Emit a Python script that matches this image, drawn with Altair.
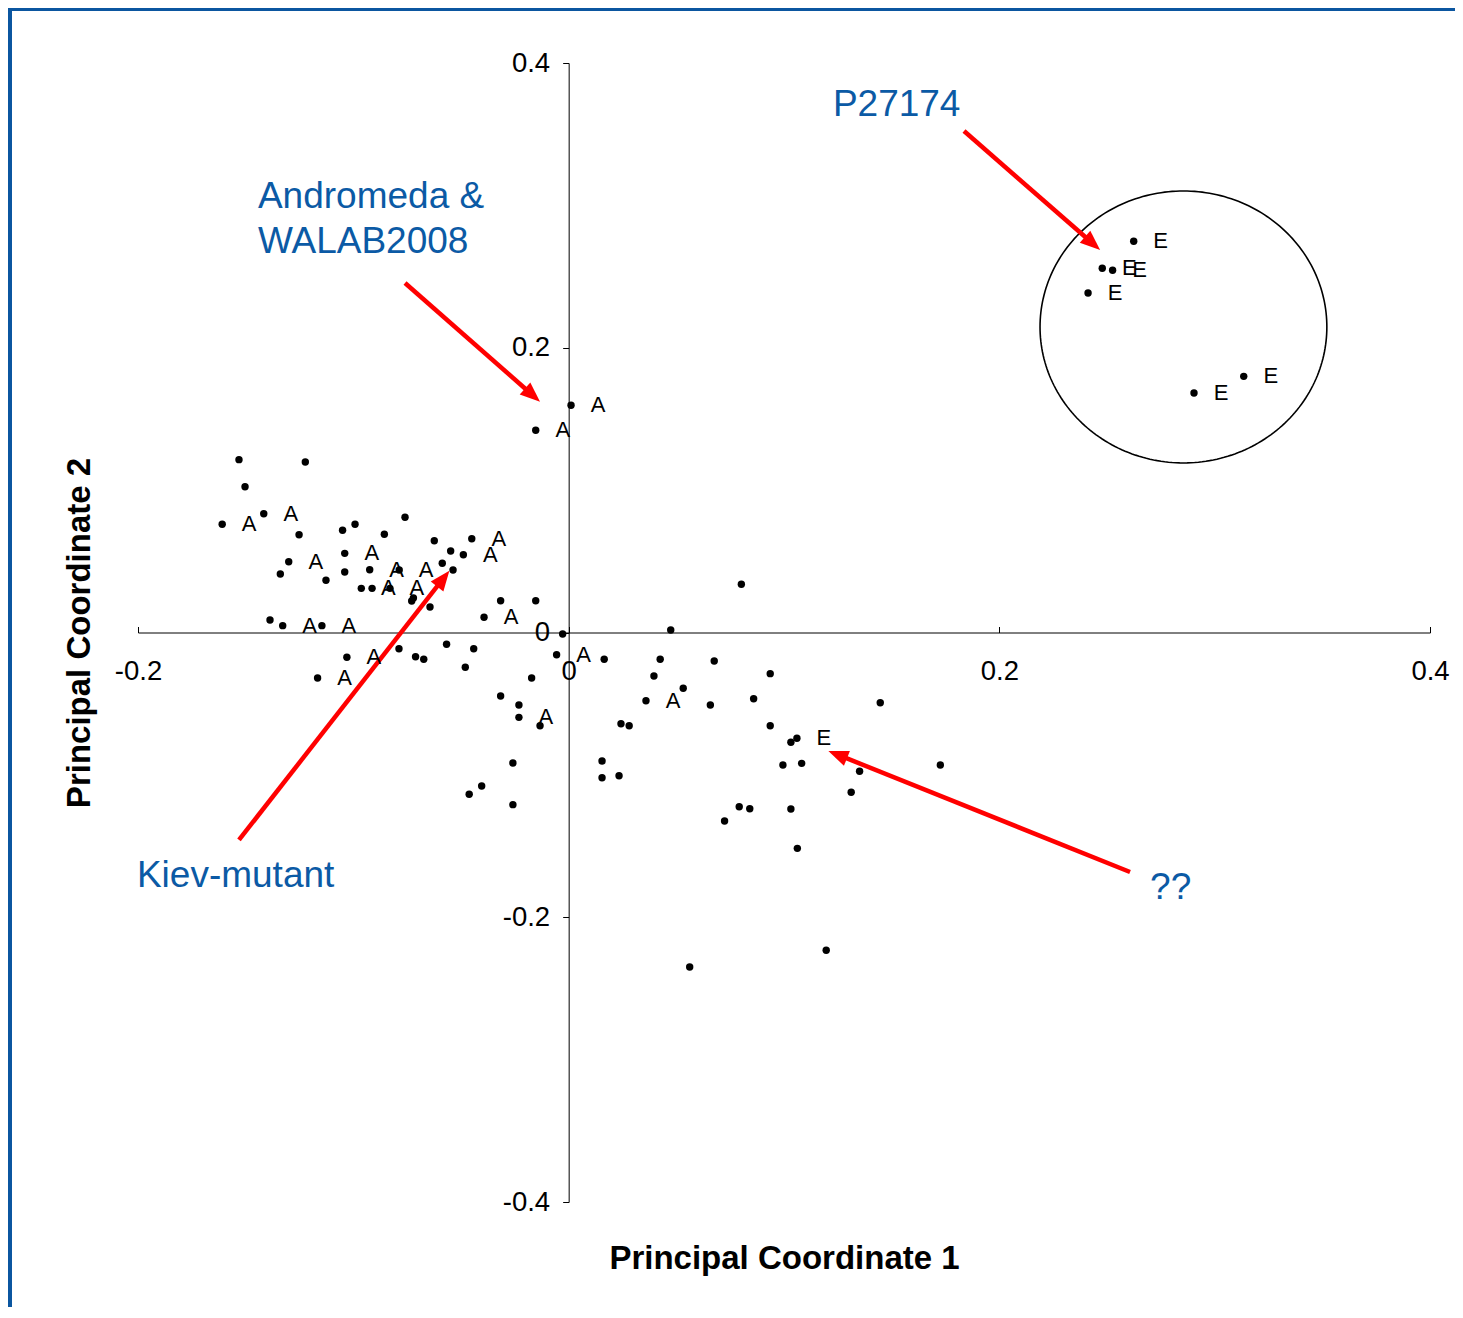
import altair as alt
import pandas as pd
import numpy as np

# ---------------- data ----------------
pc1 = [-0.1531, -0.1223, -0.1503, -0.1416, -0.1609, -0.1252, -0.1050, -0.0992, -0.1300, -0.1339,
       -0.1127, -0.1040, -0.1040, -0.0924, -0.0963, -0.0913, -0.1387, -0.1328, -0.1146, -0.1030,
       -0.1166, -0.0760, -0.0856, -0.0624, -0.0450, -0.0548, -0.0489, -0.0587, -0.0537, -0.0787,
       -0.0830, -0.0729, -0.0721, -0.0644, -0.0316, -0.0153, -0.0393, -0.0028, -0.0788, -0.0711,
       -0.0673, -0.0567, -0.0441, -0.0480, -0.0056, -0.0172, -0.0316, 0.0011, -0.0153, -0.0231,
       -0.0231, -0.0133, -0.0259, -0.0404, -0.0462, -0.0259, 0.0802, 0.0474, 0.0165, 0.0425,
       0.0676, 0.0396, 0.0936, 0.0532, 0.0359, 0.0658, 0.0859, 0.0243, 0.0281, 0.0936,
       0.0155, 0.0155, 0.0234, 0.0792, 0.0841, 0.0724, 0.1447, 0.1032, 0.1060, 0.0995,
       0.1082, 0.1351, 0.1726, 0.1312, 0.1032, 0.1062, 0.1196, 0.0562, 0.2624, 0.2478,
       0.2526, 0.2412, 0.3135, 0.2904]

pc2 = [0.1214, 0.1198, 0.1024, 0.0834, 0.0760, 0.0687, 0.0718, 0.0760, 0.0497, 0.0411,
       0.0367, 0.0556, 0.0425, 0.0441, 0.0310, 0.0310, 0.0088, 0.0048, 0.0048, -0.0174,
       -0.0320, 0.0809, 0.0690, 0.0645, 0.0659, 0.0572, 0.0546, 0.0486, 0.0439, 0.0439,
       0.0310, 0.0221, 0.0242, 0.0179, 0.0223, 0.0223, 0.0107, -0.0011, -0.0114, -0.0170,
       -0.0188, -0.0083, -0.0114, -0.0244, -0.0156, -0.0320, -0.0446, 0.1596, 0.1420, -0.0509,
       -0.0596, -0.0655, -0.0917, -0.1078, -0.1136, -0.1209, 0.0339, 0.0018, -0.0188, -0.0188,
       -0.0200, -0.0306, -0.0289, -0.0392, -0.0479, -0.0509, -0.0465, -0.0641, -0.0655, -0.0655,
       -0.0903, -0.1020, -0.1006, -0.1224, -0.1238, -0.1324, -0.0493, -0.0771, -0.0743, -0.0931,
       -0.0919, -0.0975, -0.0931, -0.1122, -0.1240, -0.1516, -0.2232, -0.2349, 0.2748, 0.2558,
       0.2544, 0.2385, 0.1799, 0.1682]

tags = ["", "", "", "A", "A", "", "", "", "A", "",
        "", "A", "", "A", "A", "", "", "A", "A", "A",
        "A", "", "", "", "A", "", "A", "", "", "A",
        "A", "", "", "", "", "", "A", "", "", "",
        "", "", "", "", "A", "", "", "A", "A", "",
        "A", "", "", "", "", "", "", "", "", "",
        "", "", "", "", "A", "", "", "", "", "",
        "", "", "", "", "", "", "", "", "E", "",
        "", "", "", "", "", "", "", "", "E", "E",
        "E", "E", "E", "E"]

# annotations
note_text = ["P27174", "Andromeda &", "WALAB2008", "Kiev-mutant", "??"]
note_x = [0.1227, -0.1443, -0.1443, -0.2005, 0.2700]
note_y = [0.3628, 0.2985, 0.2666, -0.1787, -0.1873]

# arrows (start -> tip)
arrow_x0 = [0.1836, -0.0760, -0.1531, 0.2607]
arrow_y0 = [0.3522, 0.2455, -0.1457, -0.1682]
arrow_x1 = [0.2468, -0.0133, -0.0554, 0.1206]
arrow_y1 = [0.2687, 0.1621, 0.0434, -0.0832]

# highlighted group (ellipse)
ell_cx, ell_cy, ell_rx, ell_ry = 0.2855, 0.2146, 0.0666, 0.0955

x_ticks = [-0.2, 0, 0.2, 0.4]
y_ticks = [-0.4, -0.2, 0, 0.2, 0.4]

# ---------------- layout ----------------
W, H = 1292, 1139
XD = [-0.2, 0.4]
YD = [-0.4, 0.4]
PXX = W / (XD[1] - XD[0])
PXY = H / (YD[1] - YD[0])
FONT = "Liberation Sans"
BLUE = "#0B5AA5"
RED = "#FF0000"

xs = alt.Scale(domain=XD, nice=False, zero=False)
ys = alt.Scale(domain=YD, nice=False, zero=False)

label_expr = ("datum.value == 0 ? '0' : (datum.value < 0 ? '-' + format(-datum.value, '.1f') "
              ": format(datum.value, '.1f'))")

x_axis_main = alt.Axis(orient="bottom", offset=-H / 2, values=x_ticks, ticks=False,
                       domainColor="black", domainWidth=1, labelFont=FONT, labelFontSize=27.5,
                       labelColor="black", labelPadding=25, labelExpr=label_expr, grid=False,
                       labelFlush=False, labelOverlap=False,
                       title="Principal Coordinate 1", titleFont=FONT, titleFontSize=33,
                       titleFontWeight="bold", titleColor="black", titleX=W / 2, titleY=635.5,
                       titleBaseline="alphabetic", titleAlign="center")
x_axis_ticks = alt.Axis(orient="top", offset=-H / 2, values=x_ticks, labels=False, domain=False,
                        ticks=True, tickSize=6, tickColor="black", grid=False, title=None)
y_axis = alt.Axis(orient="left", offset=-W / 3, values=y_ticks, tickSize=6, tickColor="black",
                  domainColor="black", domainWidth=1, labelFont=FONT, labelFontSize=27.5,
                  labelColor="black", labelPadding=13, labelExpr=label_expr, grid=False,
                  labelFlush=False, labelOverlap=False,
                  title="Principal Coordinate 2", titleFont=FONT, titleFontSize=33,
                  titleFontWeight="bold", titleColor="black", titleAngle=270,
                  titleX=-479, titleY=H / 2, titleBaseline="alphabetic", titleAlign="center")

pts = pd.DataFrame({"x": pc1, "y": pc2, "tag": tags})
lab = pts[pts["tag"] != ""]

points = alt.Chart(pts).mark_circle(size=55, color="black", opacity=1).encode(
    x=alt.X("x:Q", scale=xs, axis=x_axis_main),
    y=alt.Y("y:Q", scale=ys, axis=y_axis),
)

tick_layer = alt.Chart(pts).mark_circle(opacity=0).encode(
    x=alt.X("x:Q", scale=xs, axis=x_axis_ticks),
    y=alt.Y("y:Q", scale=ys, axis=None),
)

labels = alt.Chart(lab).mark_text(font=FONT, fontSize=22, color="black", dx=27,
                                  align="center", baseline="middle").encode(
    x=alt.X("x:Q", scale=xs, axis=None),
    y=alt.Y("y:Q", scale=ys, axis=None),
    text="tag:N",
)

# ellipse outline
t = np.linspace(0, 2 * np.pi, 241)
ell = pd.DataFrame({"x": ell_cx + ell_rx * np.cos(t), "y": ell_cy + ell_ry * np.sin(t),
                    "i": np.arange(len(t))})
ellipse = alt.Chart(ell).mark_line(color="black", strokeWidth=1.6).encode(
    x=alt.X("x:Q", scale=xs, axis=None),
    y=alt.Y("y:Q", scale=ys, axis=None),
    order="i:Q",
)

# arrows
rows = []
for x0, y0, x1, y1 in zip(arrow_x0, arrow_y0, arrow_x1, arrow_y1):
    dxp = (x1 - x0) * PXX
    dyp = -(y1 - y0) * PXY
    L = np.hypot(dxp, dyp)
    ux, uy = dxp / L, dyp / L
    ang = (np.degrees(np.arctan2(dxp, -dyp)) + 360) % 360
    back = 12.0
    rows.append({"x0": x0, "y0": y0,
                 "xe": x1 - back * ux / PXX, "ye": y1 + back * uy / PXY,
                 "x1": x1, "y1": y1, "ang": ang})
arr = pd.DataFrame(rows)

shafts = alt.Chart(arr).mark_rule(color=RED, strokeWidth=4.5).encode(
    x=alt.X("x0:Q", scale=xs, axis=None),
    y=alt.Y("y0:Q", scale=ys, axis=None),
    x2="xe:Q", y2="ye:Q",
)
heads = alt.Chart(arr).mark_point(shape="M0,0L-0.8,2L0.8,2Z", filled=True, fill=RED,
                                  strokeWidth=0, size=400, opacity=1).encode(
    x=alt.X("x1:Q", scale=xs, axis=None),
    y=alt.Y("y1:Q", scale=ys, axis=None),
    angle=alt.Angle("ang:Q", scale=None),
)

notes_df = pd.DataFrame({"x": note_x, "y": note_y, "t": note_text})
notes = alt.Chart(notes_df).mark_text(font=FONT, fontSize=37, color=BLUE, align="left",
                                      baseline="alphabetic").encode(
    x=alt.X("x:Q", scale=xs, axis=None),
    y=alt.Y("y:Q", scale=ys, axis=None),
    text="t:N",
)

# blue frame (left and top edges)
one = pd.DataFrame({"k": [0]})
frame_left = alt.Chart(one).mark_rule(color="#0B56A0", strokeWidth=6).encode(
    x=alt.value(-129), y=alt.value(-55), y2=alt.value(H + 120))
frame_top = alt.Chart(one).mark_rule(color="#0B56A0", strokeWidth=6).encode(
    x=alt.value(-132), x2=alt.value(W + 40), y=alt.value(-55))

chart = alt.layer(
    tick_layer, ellipse, shafts, heads, points, labels, notes, frame_left, frame_top
).resolve_axis(x="independent", y="independent").properties(
    width=W, height=H,
    autosize=alt.AutoSizeParams(type="none"),
    padding={"left": 130, "top": 55, "right": 25, "bottom": 105},
).configure_view(strokeWidth=0)

chart.save("out.html", embed_options={"renderer": "svg", "actions": False})
